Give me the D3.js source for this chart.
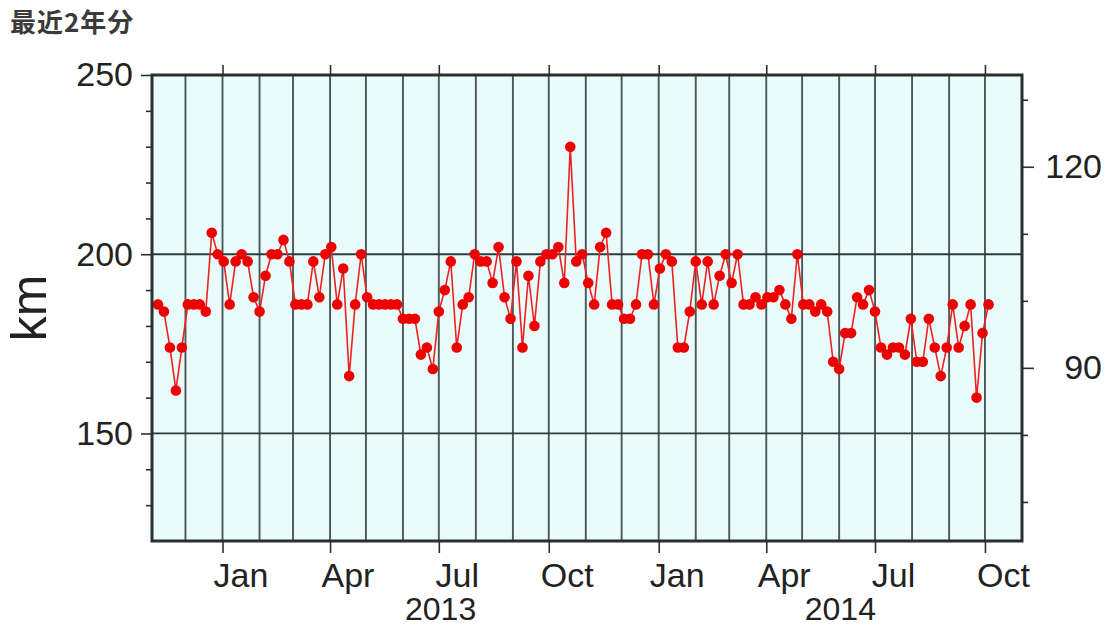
<!DOCTYPE html>
<html>
<head>
<meta charset="utf-8">
<script src="https://cdn.jsdelivr.net/npm/d3@7"></script>
<style>
  html, body { margin: 0; padding: 0; background: #ffffff; }
  svg { display: block; }
</style>
</head>
<body>
<svg id="chart" width="1112" height="629"></svg>
<script>
// ---------------- data ----------------
const titleText = "最近2年分";
const yAxisLabel = "km";

const dates = [
  "2012-11-08","2012-11-13","2012-11-18","2012-11-23","2012-11-28",
  "2012-12-03","2012-12-08","2012-12-13","2012-12-18","2012-12-23","2012-12-28",
  "2013-01-02","2013-01-07","2013-01-12","2013-01-17","2013-01-22","2013-01-27",
  "2013-02-01","2013-02-06","2013-02-11","2013-02-16","2013-02-21","2013-02-26",
  "2013-03-03","2013-03-08","2013-03-13","2013-03-18","2013-03-23","2013-03-28",
  "2013-04-02","2013-04-07","2013-04-12","2013-04-17","2013-04-22","2013-04-27",
  "2013-05-02","2013-05-07","2013-05-12","2013-05-17","2013-05-22","2013-05-27",
  "2013-06-01","2013-06-06","2013-06-11","2013-06-16","2013-06-21","2013-06-26",
  "2013-07-01","2013-07-06","2013-07-11","2013-07-16","2013-07-21","2013-07-26","2013-07-31",
  "2013-08-05","2013-08-10","2013-08-15","2013-08-20","2013-08-25","2013-08-30",
  "2013-09-04","2013-09-09","2013-09-14","2013-09-19","2013-09-24","2013-09-29",
  "2013-10-04","2013-10-09","2013-10-14","2013-10-19","2013-10-24","2013-10-29",
  "2013-11-03","2013-11-08","2013-11-13","2013-11-18","2013-11-23","2013-11-28",
  "2013-12-03","2013-12-08","2013-12-13","2013-12-18","2013-12-23","2013-12-28",
  "2014-01-02","2014-01-07","2014-01-12","2014-01-17","2014-01-22","2014-01-27",
  "2014-02-01","2014-02-06","2014-02-11","2014-02-16","2014-02-21","2014-02-26",
  "2014-03-03","2014-03-08","2014-03-13","2014-03-18","2014-03-23","2014-03-28",
  "2014-04-02","2014-04-07","2014-04-12","2014-04-17","2014-04-22","2014-04-27",
  "2014-05-02","2014-05-07","2014-05-12","2014-05-17","2014-05-22","2014-05-27",
  "2014-06-01","2014-06-06","2014-06-11","2014-06-16","2014-06-21","2014-06-26",
  "2014-07-01","2014-07-06","2014-07-11","2014-07-16","2014-07-21","2014-07-26","2014-07-31",
  "2014-08-05","2014-08-10","2014-08-15","2014-08-20","2014-08-25","2014-08-30",
  "2014-09-04","2014-09-09","2014-09-14","2014-09-19","2014-09-24","2014-09-29",
  "2014-10-04"
];

const valuesKm = [
  186,184,174,162,174,
  186,186,186,184,206,200,
  198,186,198,200,198,188,
  184,194,200,200,204,198,
  186,186,186,198,188,200,
  202,186,196,166,186,200,
  188,186,186,186,186,186,
  182,182,182,172,174,168,
  184,190,198,174,186,188,200,
  198,198,192,202,188,182,
  198,174,194,180,198,200,
  200,202,192,230,198,200,
  192,186,202,206,186,186,
  182,182,186,200,200,186,
  196,200,198,174,174,184,
  198,186,198,186,194,200,
  192,200,186,186,188,186,
  188,188,190,186,182,200,
  186,186,184,186,184,170,
  168,178,178,188,186,190,
  184,174,172,174,174,172,182,
  170,170,182,174,166,174,
  186,174,180,186,160,178,
  186
];

const xDomain = ["2012-11-03", "2014-11-01"];
const yDomainKm = [120, 250];
const yMajorTicks = [150, 200, 250];
const yMinorTicks = [130, 140, 160, 170, 180, 190, 210, 220, 230, 240];
const kmPerRightUnit = 1.87;
const rightMajorTicks = [90, 120];
const rightMinorTicks = [70, 80, 100, 110, 130];
const yearLabels = ["2013", "2014"];

// ---------------- layout ----------------
const plot = { left: 152, right: 1022, top: 75, bottom: 541 };
const parse = d3.timeParse("%Y-%m-%d");
const data = dates.map((d, i) => ({ date: parse(d), value: valuesKm[i] }));

const svg = d3.select("#chart");
const x = d3.scaleTime().domain(xDomain.map(parse)).range([plot.left, plot.right]);
const y = d3.scaleLinear().domain(yDomainKm).range([plot.bottom, plot.top]);
const yR = d3.scaleLinear()
  .domain(yDomainKm.map(v => v / kmPerRightUnit))
  .range([plot.bottom, plot.top]);

const latin = "'Liberation Sans', Arial, Helvetica, sans-serif";
const textColor = "#222";
const gridColor = "#4c5858";

// title
svg.append("text")
  .attr("x", 10).attr("y", 32)
  .attr("font-family", "'Noto Sans CJK JP', sans-serif")
  .attr("font-weight", 700)
  .attr("font-size", 26)
  .attr("letter-spacing", 1)
  .attr("fill", "#3a3a3a")
  .text(titleText);

// plot background
svg.append("rect")
  .attr("x", plot.left).attr("y", plot.top)
  .attr("width", plot.right - plot.left)
  .attr("height", plot.bottom - plot.top)
  .attr("fill", "#e9fbfb");

// vertical month grid
const months = d3.timeMonth.range(x.domain()[0], x.domain()[1]);
svg.append("g").selectAll("line")
  .data(months.filter(m => x(m) > plot.left + 2))
  .join("line")
  .attr("x1", d => x(d)).attr("x2", d => x(d))
  .attr("y1", plot.top).attr("y2", plot.bottom)
  .attr("stroke", gridColor).attr("stroke-width", 1.9);

// horizontal grid at major ticks
svg.append("g").selectAll("line")
  .data(yMajorTicks.filter(v => v < yDomainKm[1]))
  .join("line")
  .attr("x1", plot.left).attr("x2", plot.right)
  .attr("y1", d => y(d)).attr("y2", d => y(d))
  .attr("stroke", "#2f3a3a").attr("stroke-width", 1.8);

// data line & points
svg.append("path")
  .datum(data)
  .attr("fill", "none")
  .attr("stroke", "#f02020")
  .attr("stroke-width", 1.6)
  .attr("d", d3.line().x(d => x(d.date)).y(d => y(d.value)));

svg.append("g").selectAll("circle")
  .data(data)
  .join("circle")
  .attr("cx", d => x(d.date))
  .attr("cy", d => y(d.value))
  .attr("r", 5.3)
  .attr("fill", "#ee0000");

// frame
svg.append("rect")
  .attr("x", plot.left).attr("y", plot.top)
  .attr("width", plot.right - plot.left)
  .attr("height", plot.bottom - plot.top)
  .attr("fill", "none")
  .attr("stroke", "#283030").attr("stroke-width", 3);

// left axis
const leftAxis = svg.append("g").attr("transform", `translate(${plot.left},0)`);
leftAxis.call(d3.axisLeft(y).tickValues(yMajorTicks).tickSize(11).tickPadding(8).tickFormat(d3.format("d")));
const leftMinor = svg.append("g").attr("transform", `translate(${plot.left},0)`);
leftMinor.call(d3.axisLeft(y).tickValues(yMinorTicks).tickSize(6).tickFormat(""));

// right axis
const rightAxis = svg.append("g").attr("transform", `translate(${plot.right},0)`);
rightAxis.call(d3.axisRight(yR).tickValues(rightMajorTicks).tickSize(12).tickPadding(10).tickFormat(d3.format("d")));
const rightMinor = svg.append("g").attr("transform", `translate(${plot.right},0)`);
rightMinor.call(d3.axisRight(yR).tickValues(rightMinorTicks).tickSize(6).tickFormat(""));
rightAxis.selectAll("text").attr("text-anchor", "end").attr("x", 1102 - plot.right);

// bottom axis: quarter ticks (labels placed mid-month)
const quarterTicks = d3.timeMonth.every(3).range(x.domain()[0], x.domain()[1]);
const bottomAxis = svg.append("g").attr("transform", `translate(0,${plot.bottom})`);
bottomAxis.call(d3.axisBottom(x).tickValues(quarterTicks).tickSize(12).tickFormat(""));
const topAxis = svg.append("g").attr("transform", `translate(0,${plot.top})`);
topAxis.call(d3.axisTop(x).tickValues(quarterTicks).tickSize(10).tickFormat(""));

[leftAxis, leftMinor, rightAxis, rightMinor, bottomAxis, topAxis].forEach(g => {
  g.select(".domain").remove();
  g.selectAll("line").attr("stroke", "#283030").attr("stroke-width", 1.6);
  g.selectAll("text")
    .attr("font-family", latin)
    .attr("font-size", 34)
    .attr("fill", textColor);
});

const fmtMonth = d3.timeFormat("%b");
svg.append("g").selectAll("text")
  .data(quarterTicks)
  .join("text")
  .attr("x", d => (x(d) + x(d3.timeMonth.offset(d, 1))) / 2)
  .attr("y", 587)
  .attr("text-anchor", "middle")
  .attr("font-family", latin)
  .attr("font-size", 34)
  .attr("fill", textColor)
  .text(d => fmtMonth(d));

svg.append("g").selectAll("text")
  .data(yearLabels)
  .join("text")
  .attr("x", d => {
    const s = parse(d + "-01-01"), e = parse((+d + 1) + "-01-01");
    const a = Math.max(x(s), plot.left), b = Math.min(x(e), plot.right);
    return (a + b) / 2;
  })
  .attr("y", 620)
  .attr("text-anchor", "middle")
  .attr("font-family", latin)
  .attr("font-size", 32)
  .attr("fill", textColor)
  .text(d => d);

// y axis label
svg.append("text")
  .attr("transform", `translate(46, ${(plot.top + plot.bottom) / 2}) rotate(-90)`)
  .attr("text-anchor", "middle")
  .attr("font-family", latin)
  .attr("font-size", 50)
  .attr("fill", textColor)
  .text(yAxisLabel);
</script>
</body>
</html>
